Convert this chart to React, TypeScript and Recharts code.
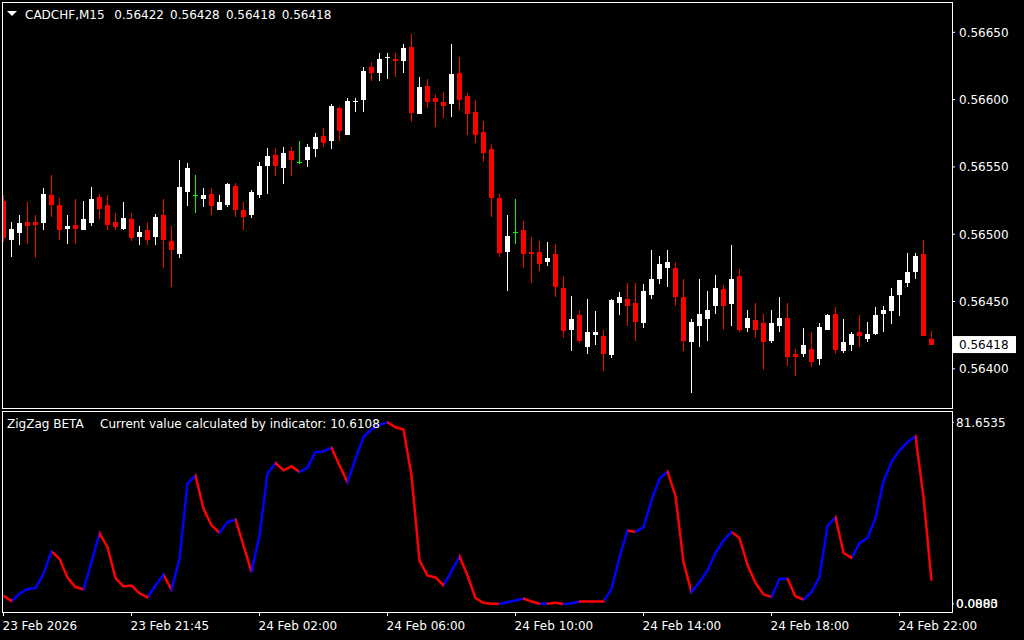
import React from "react";
import { ComposedChart, Bar, Line, XAxis, YAxis } from "recharts";

// CADCHF M15 candles, bar 0 = 23 Feb 17:45
const opens = [
  0.56525, 0.56496, 0.56501, 0.56509, 0.56509, 0.56508, 0.56529, 0.56522, 0.56504, 0.56507,
  0.56503, 0.56508, 0.56528, 0.56522, 0.56509, 0.56504, 0.56511, 0.56498, 0.56503, 0.56498,
  0.56514, 0.56495, 0.56485, 0.56531, 0.56529, 0.56526, 0.5653, 0.56518, 0.56522, 0.56536,
  0.56518, 0.56514, 0.56529, 0.56551, 0.56559, 0.56549, 0.56562, 0.56554, 0.56555, 0.56563,
  0.56573, 0.56569, 0.56594, 0.56574, 0.56598, 0.566, 0.56624, 0.5662, 0.56631, 0.5663,
  0.56629, 0.56639, 0.56589, 0.5661, 0.56601, 0.56598, 0.56597, 0.5662, 0.56603, 0.56591,
  0.56576, 0.56563, 0.56527, 0.56487, 0.56502, 0.56503, 0.56487, 0.56487, 0.56479, 0.56485,
  0.5646, 0.56429, 0.5644, 0.56416, 0.56425, 0.56424, 0.5641, 0.56449, 0.56452, 0.56449,
  0.56434, 0.56455, 0.56467, 0.56475, 0.56475, 0.56453, 0.5642, 0.56432, 0.56437, 0.56447,
  0.56459, 0.56448, 0.56469, 0.5643, 0.56436, 0.56434, 0.56421, 0.56432, 0.56438, 0.56411,
  0.56411, 0.56415, 0.56407, 0.56429, 0.56441, 0.56413, 0.56418, 0.56427, 0.56422, 0.56426,
  0.56441, 0.56443, 0.56455, 0.56464, 0.56472, 0.56485, 0.56422,
];
const highs = [
  0.56529, 0.56509, 0.56514, 0.56524, 0.56514, 0.56534, 0.56544, 0.56527, 0.56514, 0.56526,
  0.56525, 0.56535, 0.5653, 0.56529, 0.56516, 0.56524, 0.56516, 0.56506, 0.56509, 0.56515,
  0.56526, 0.56506, 0.56555, 0.56553, 0.56544, 0.56534, 0.56534, 0.56529, 0.56538, 0.56538,
  0.56524, 0.56533, 0.56554, 0.56564, 0.56564, 0.56565, 0.56565, 0.56569, 0.56567, 0.56575,
  0.56579, 0.56597, 0.56595, 0.56601, 0.56601, 0.56624, 0.56628, 0.56635, 0.56635, 0.56635,
  0.56641, 0.56649, 0.56617, 0.56615, 0.56604, 0.56606, 0.56641, 0.56632, 0.56605, 0.566,
  0.56584, 0.56567, 0.5653, 0.56514, 0.56526, 0.5651, 0.56498, 0.56495, 0.56494, 0.56493,
  0.56469, 0.56454, 0.56444, 0.56452, 0.56443, 0.56429, 0.56452, 0.56457, 0.56464, 0.56464,
  0.56463, 0.56488, 0.56484, 0.56488, 0.56479, 0.56467, 0.56437, 0.56467, 0.56458, 0.5647,
  0.56462, 0.56492, 0.56474, 0.56444, 0.56449, 0.56441, 0.56444, 0.56453, 0.56449, 0.56415,
  0.5643, 0.56427, 0.56434, 0.56441, 0.56446, 0.56437, 0.56427, 0.5644, 0.56435, 0.56446,
  0.56447, 0.5646, 0.56466, 0.56486, 0.56486, 0.56496, 0.56428,
];
const lows = [
  0.56494, 0.56483, 0.56492, 0.56493, 0.56482, 0.56503, 0.56513, 0.56496, 0.56493, 0.56493,
  0.56503, 0.56506, 0.56511, 0.56503, 0.56503, 0.56503, 0.56495, 0.56492, 0.56492, 0.56492,
  0.56475, 0.56461, 0.56482, 0.56521, 0.56516, 0.5652, 0.56514, 0.56518, 0.5652, 0.56513,
  0.56503, 0.56512, 0.56527, 0.5653, 0.56543, 0.56537, 0.56543, 0.56552, 0.5655, 0.56557,
  0.56565, 0.56563, 0.56569, 0.56574, 0.56591, 0.56591, 0.56614, 0.56614, 0.56615, 0.56617,
  0.5662, 0.56583, 0.56589, 0.56594, 0.5658, 0.56586, 0.56587, 0.56592, 0.56574, 0.56568,
  0.56554, 0.56513, 0.56483, 0.56458, 0.56493, 0.56475, 0.56464, 0.56473, 0.56476, 0.56453,
  0.56423, 0.56413, 0.56419, 0.56411, 0.56418, 0.56398, 0.56408, 0.5644, 0.56432, 0.56421,
  0.5643, 0.56452, 0.56463, 0.56461, 0.56447, 0.56413, 0.56382, 0.56416, 0.56421, 0.56441,
  0.56429, 0.56432, 0.56427, 0.56427, 0.56423, 0.56399, 0.56419, 0.56427, 0.56402, 0.56395,
  0.56409, 0.56401, 0.56403, 0.56429, 0.56411, 0.56412, 0.56413, 0.56416, 0.5642, 0.56425,
  0.56427, 0.56433, 0.56439, 0.56461, 0.56467, 0.56424, 0.56418,
];
const closes = [
  0.56497, 0.56504, 0.56508, 0.56506, 0.56507, 0.5653, 0.56522, 0.56503, 0.56506, 0.56504,
  0.56511, 0.56526, 0.56519, 0.56507, 0.56505, 0.56512, 0.56497, 0.56502, 0.56496, 0.56513,
  0.56496, 0.56488, 0.56535, 0.56549, 0.56529, 0.56529, 0.56521, 0.56524, 0.56537, 0.56518,
  0.56513, 0.56531, 0.56551, 0.56558, 0.56551, 0.5656, 0.56555, 0.56554, 0.56565, 0.56572,
  0.56568, 0.56595, 0.56577, 0.56599, 0.56599, 0.56621, 0.5662, 0.5663, 0.56632, 0.56629,
  0.56638, 0.5659, 0.56609, 0.56598, 0.56598, 0.56595, 0.56619, 0.566, 0.56589, 0.56574,
  0.5656, 0.56527, 0.56486, 0.56499, 0.56502, 0.56485, 0.56485, 0.56478, 0.56482, 0.56461,
  0.56428, 0.56437, 0.56421, 0.56427, 0.56427, 0.56411, 0.56451, 0.56453, 0.56447, 0.56435,
  0.56458, 0.56467, 0.56478, 0.56479, 0.56453, 0.56421, 0.56435, 0.56441, 0.56444, 0.5646,
  0.56447, 0.56467, 0.56429, 0.56438, 0.56429, 0.5642, 0.56434, 0.56438, 0.56409, 0.56409,
  0.56418, 0.56405, 0.56431, 0.5644, 0.56414, 0.5642, 0.56426, 0.56424, 0.56426, 0.5644,
  0.56444, 0.56454, 0.56466, 0.56472, 0.56484, 0.56424, 0.56418,
];

// ZigZag BETA indicator value per bar
const zigzag = [
  3.9, 1.4, 4.7, 6.8, 7.2, 13.6, 23.7, 20.4, 11.9, 7.7,
  6.6, 18.9, 31.9, 25.6, 11.7, 8.0, 8.4, 4.9, 3.1, 8.4,
  13.3, 6.5, 20.4, 54.1, 57.8, 42.9, 35.4, 32.1, 36.9, 38.1,
  26.4, 14.4, 30.9, 58.6, 63.4, 60.1, 61.9, 59.3, 61.3, 68.3,
  68.6, 70.3, 62.3, 54.8, 65.3, 75.1, 78.5, 80.5, 81.6535, 79.4,
  78.4, 57.8, 19.6, 12.9, 12.0, 8.4, 14.8, 21.6, 12.9, 2.7,
  0.63, 0.18, 0.18, 0.9, 1.66, 2.56, 1.21, 0.18, 0.18, 0.63,
  0.0883, 0.45, 1.21, 1.21, 1.21, 1.21, 6.9, 21.1, 33.1, 32.4,
  34.6, 46.6, 56.3, 59.6, 48.6, 18.9, 5.4, 9.9, 15.2, 22.9,
  28.6, 32.4, 29.7, 17.7, 9.6, 4.4, 3.2, 11.4, 11.4, 3.5,
  2.1, 5.4, 12.2, 35.1, 39.1, 23.1, 20.8, 27.4, 29.7, 38.7,
  55.1, 63.8, 69.1, 72.8, 75.4, 48.1, 10.6108,
];
// indicator state for the segment ending at each bar: 1 up (blue), -1 down (red)
const zigzagTrend = [
  -1, -1, 1, 1, 1, 1, 1, -1, -1, -1,
  -1, 1, 1, -1, -1, -1, -1, -1, -1, 1,
  1, -1, 1, 1, 1, -1, -1, -1, 1, 1,
  -1, -1, 1, 1, 1, -1, -1, -1, 1, 1,
  1, 1, -1, -1, 1, 1, 1, 1, 1, -1,
  -1, -1, -1, -1, -1, -1, 1, 1, -1, -1,
  -1, -1, -1, 1, 1, 1, -1, -1, 1, -1,
  -1, 1, 1, -1, -1, -1, 1, 1, 1, -1,
  1, 1, 1, 1, -1, -1, -1, 1, 1, 1,
  1, 1, -1, -1, -1, -1, -1, 1, 1, -1,
  -1, 1, 1, 1, 1, -1, -1, 1, 1, 1,
  1, 1, 1, 1, 1, -1, -1,
];

const timeLabelBars = [0, 16, 32, 48, 64, 80, 96, 112];
const timeLabels = [
  "23 Feb 2026", "23 Feb 21:45", "24 Feb 02:00", "24 Feb 06:00",
  "24 Feb 10:00", "24 Feb 14:00", "24 Feb 18:00", "24 Feb 22:00",
];
const priceTicks = [0.564, 0.5645, 0.565, 0.5655, 0.566, 0.5665];
const indicatorTicks = [0.0883, 81.6535];
const headerPrices = ["0.56422", "0.56428", "0.56418", "0.56418"];
const indicatorValueText = "10.6108";

const lastClose = closes[closes.length - 1];

const priceRows = opens.map((o, i) => ({
  i,
  open: o,
  high: highs[i],
  low: lows[i],
  close: closes[i],
  range: [lows[i], highs[i]],
}));
const zigzagRows = zigzag.map((v, i) => ({ i, zz: v }));

const FONT = "DejaVu Sans";
const X_DOMAIN: [number, number] = [-0.0625, 118.5625];

function Candle(props: any) {
  const { x, y, width, height, payload } = props;
  if (!payload) return null;
  const { open, high, low, close } = payload;
  const top = Math.min(y, y + height);
  const bottom = Math.max(y, y + height);
  const span = high - low;
  const py = (v: number) => (span === 0 ? top : top + ((high - v) / span) * (bottom - top));
  const cx = Math.floor(x + width / 2) + 0.5;
  const color = close > open ? "#FFFFFF" : close < open ? "#FF0000" : "#00FF00";
  const wTop = Math.round(top);
  const wBot = Math.max(Math.round(bottom), wTop + 1);
  if (close === open) {
    const yy = Math.round(py(open));
    return (
      <g>
        <rect x={cx - 0.5} y={wTop} width={1} height={wBot - wTop} fill={color} />
        <rect x={cx - 2.5} y={yy} width={5} height={1} fill={color} />
      </g>
    );
  }
  const bTop = Math.round(py(Math.max(open, close)));
  const bBot = Math.max(Math.round(py(Math.min(open, close))), bTop + 1);
  return (
    <g>
      <rect x={cx - 0.5} y={wTop} width={1} height={wBot - wTop} fill={color} />
      <rect x={cx - 2.5} y={bTop} width={5} height={bBot - bTop} fill={color} />
    </g>
  );
}

function PriceTick(props: any) {
  const { x, y, payload } = props;
  const v = payload.value;
  if (v === lastClose) {
    return (
      <g>
        <rect x={x - 6} y={y - 8.5} width={63} height={17} fill="#FFFFFF" />
        <text x={x} y={y} dy="0.36em" fill="#000000" fontSize={12} fontFamily={FONT}>
          {v.toFixed(5)}
        </text>
      </g>
    );
  }
  return (
    <text x={x} y={y} dy="0.36em" fill="#FFFFFF" fontSize={12} fontFamily={FONT}>
      {v.toFixed(5)}
    </text>
  );
}

function IndicatorTick(props: any) {
  const { x, y, payload } = props;
  const v = payload.value;
  return (
    <g>
      {v === indicatorTicks[0] && (
        <text x={x} y={y} dy="0.36em" fill="#FFFFFF" fontSize={12} fontFamily={FONT}>
          0.0000
        </text>
      )}
      <text x={x} y={y} dy="0.36em" fill="#FFFFFF" fontSize={12} fontFamily={FONT}>
        {v.toFixed(4)}
      </text>
    </g>
  );
}

function TimeTick(props: any) {
  const { x, y, payload } = props;
  const idx = timeLabelBars.indexOf(payload.value);
  return (
    <text x={x - 1} y={y} dy={12} fill="#FFFFFF" fontSize={12} fontFamily={FONT}>
      {idx >= 0 ? timeLabels[idx] : ""}
    </text>
  );
}

export default function App() {
  const n = zigzag.length - 1;
  const stops: React.ReactElement[] = [];
  for (let k = 1; k <= n; k++) {
    const c = zigzagTrend[k] > 0 ? "#0000FF" : "#FF0000";
    stops.push(<stop key={`a${k}`} offset={(k - 1) / n} stopColor={c} />);
    stops.push(<stop key={`b${k}`} offset={k / n} stopColor={c} />);
  }

  return (
    <div style={{ position: "absolute", left: 0, top: 0, width: 1024, height: 640, background: "#000000", overflow: "hidden" }}>
      <div style={{ position: "absolute", left: 0, top: 0 }}>
        <ComposedChart width={1024} height={412} data={priceRows} margin={{ top: 3, right: 0, bottom: 4, left: 3 }}>
          <XAxis dataKey="i" type="number" domain={X_DOMAIN} hide allowDataOverflow />
          <YAxis
            orientation="right"
            width={72}
            domain={[0.5637086, 0.5667178]}
            allowDataOverflow
            ticks={[...priceTicks, lastClose]}
            interval={0}
            axisLine={false}
            tickLine={{ stroke: "#FFFFFF" }}
            tickSize={3}
            tickMargin={4}
            tick={<PriceTick />}
          />
          <Bar dataKey="range" barSize={6} isAnimationActive={false} shape={(p: any) => <Candle {...p} />} />
        </ComposedChart>
      </div>

      <div style={{ position: "absolute", left: 0, top: 400 }}>
        <ComposedChart width={1024} height={240} data={zigzagRows} margin={{ top: 12, right: 0, bottom: 0, left: 3 }}>
          <defs>
            <linearGradient id="zzStroke" x1="0" y1="0" x2="1" y2="0">
              {stops}
            </linearGradient>
          </defs>
          <XAxis
            dataKey="i"
            type="number"
            domain={X_DOMAIN}
            allowDataOverflow
            ticks={timeLabelBars}
            interval={0}
            height={28}
            axisLine={false}
            tickLine={{ stroke: "#FFFFFF" }}
            tickSize={4}
            tickMargin={2}
            tick={<TimeTick />}
          />
          <YAxis
            orientation="right"
            width={72}
            domain={[-3.503, 86.277]}
            allowDataOverflow
            ticks={indicatorTicks}
            interval={0}
            axisLine={false}
            tickLine={{ stroke: "#FFFFFF" }}
            tickSize={2}
            tickMargin={2}
            tick={<IndicatorTick />}
          />
          <Line
            type="linear"
            dataKey="zz"
            stroke="url(#zzStroke)"
            strokeWidth={2.5}
            dot={false}
            activeDot={false}
            isAnimationActive={false}
          />
        </ComposedChart>
      </div>

      <svg width={1024} height={640} style={{ position: "absolute", left: 0, top: 0, pointerEvents: "none" }}>
        <rect x={2.5} y={2.5} width={950} height={406} fill="none" stroke="#FFFFFF" strokeWidth={1} />
        <rect x={2.5} y={411.5} width={950} height={201} fill="none" stroke="#FFFFFF" strokeWidth={1} />
        <polygon points="7,11 17,11 12,16" fill="#FFFFFF" />
        <g fill="#FFFFFF" fontSize={12} fontFamily={FONT}>
          <text x={25} y={18.5}>CADCHF,M15</text>
          {headerPrices.map((p, i) => (
            <text key={i} x={114.3 + i * 55.8} y={18.5}>
              {p}
            </text>
          ))}
          <text x={7} y={428}>ZigZag BETA</text>
          <text x={100} y={428}>{`Current value calculated by indicator: ${indicatorValueText}`}</text>
        </g>
      </svg>
    </div>
  );
}
